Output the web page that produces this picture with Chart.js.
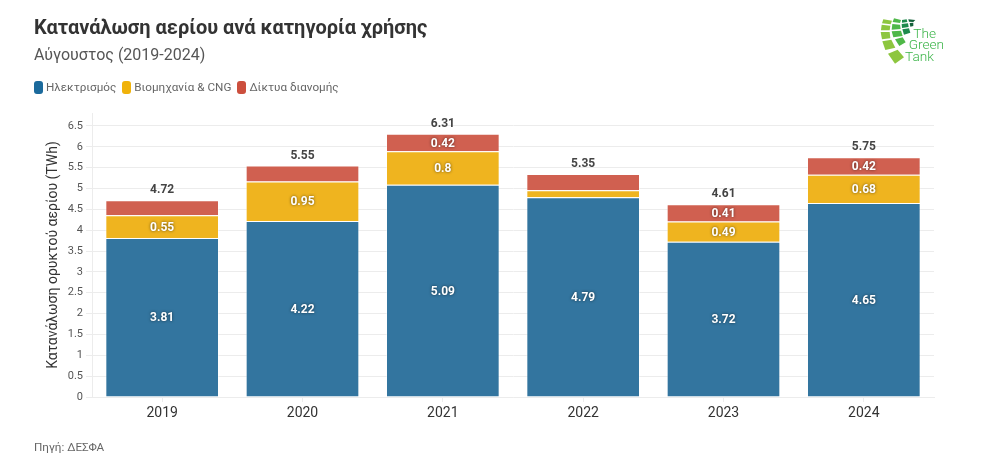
<!DOCTYPE html>
<html lang="el">
<head>
<meta charset="utf-8">
<title>Κατανάλωση αερίου</title>
<script src="https://cdn.jsdelivr.net/npm/chart.js@4"></script>
<style>
  html, body { margin: 0; padding: 0; background: #fff; }
  body { width: 989px; height: 476px; position: relative; overflow: hidden; font-family: Roboto, sans-serif; }
  canvas { position: absolute; left: 0; top: 0; }
  .txt { position: absolute; white-space: nowrap; }
  #title { left: 34px; top: 15px; font-size: 20px; font-weight: 700; color: #333; }
  #subtitle { left: 34px; top: 45px; font-size: 16px; color: #555; }
  #legend { position: absolute; left: 34px; top: 80px; display: flex; font-size: 11.7px; color: #666; }
  #legend span.item { display: flex; align-items: center; margin-right: 6px; }
  #legend i { width: 9px; height: 13px; border-radius: 3px; margin-right: 3px; display: block; }
  #source { left: 34px; top: 440px; font-size: 11.7px; color: #666; }
  #logo { position: absolute; left: 850px; top: 0; }
</style>
</head>
<body>
<canvas id="chart" width="989" height="476"></canvas>
<div class="txt" id="title">Κατανάλωση αερίου ανά κατηγορία χρήσης</div>
<div class="txt" id="subtitle">Αύγουστος (2019-2024)</div>
<div id="legend"></div>
<div class="txt" id="source">Πηγή: ΔΕΣΦΑ</div>
<svg id="logo" width="139" height="80" viewBox="0 0 417 240">
  <g fill="#8dc63f">
    <polygon points="100,58 126,62 122,73 96,70"/>
    <polygon points="95,74 121,77 119,91 93,91"/>
    <polygon points="92,96 119,96 121,115 96,118"/>
    <polygon points="97,124 124,119 136,143 106,150"/>
    <polygon points="114,161 143,149 162,172 135,191"/>
  </g>
  <g fill="#4fb848">
    <polygon points="132,55 153,60 150,69 128,66"/>
    <polygon points="127,72 150,74 152,87 125,89"/>
    <polygon points="125,94 153,92 158,108 130,112"/>
    <polygon points="135,118 158,112 167,127 148,138"/>
  </g>
  <g fill="#1e8a4c">
    <polygon points="156,60 170,58 172,66 156,68"/>
    <polygon points="155,72 174,70 176,81 156,84"/>
    <polygon points="157,88 177,85 181,98 162,104"/>
  </g>
  <g fill="#14613a">
    <polygon points="175,58 196,60 190,66 177,65"/>
    <polygon points="179,69 190,68 190,78 181,80"/>
  </g>
  <g fill="#3db54a" font-family="Roboto, sans-serif" font-weight="300" font-size="41">
    <text x="190" y="114">The</text>
    <text x="176" y="148">Green</text>
    <text x="165" y="182">Tank</text>
  </g>
</svg>
<script>
// values, TWh
const years = ["2019", "2020", "2021", "2022", "2023", "2024"];
const electricity = [3.81, 4.22, 5.09, 4.79, 3.72, 4.65];
const industry = [0.55, 0.95, 0.8, 0.17, 0.49, 0.68];
const networks = [0.36, 0.38, 0.42, 0.39, 0.41, 0.42];
const totals = [4.72, 5.55, 6.31, 5.35, 4.61, 5.75];

const seriesNames = ["Ηλεκτρισμός", "Βιομηχανία & CNG", "Δίκτυα διανομής"];
const legendColors = ["#1b6a9c", "#f0b20a", "#cc4f3d"];
const barColors = ["#33759f", "#efb41f", "#d06050"];
const labelMin = 0.41; // smaller segments carry no label in the original

// legend is plain html so the swatches can be taller than wide
document.getElementById("legend").innerHTML = seriesNames
  .map((n, i) => `<span class="item"><i style="background:${legendColors[i]}"></i>${n}</span>`)
  .join("");

const barLabels = {
  id: "barLabels",
  afterDatasetsDraw(chart) {
    const ctx = chart.ctx;
    ctx.save();
    ctx.textAlign = "center";
    ctx.textBaseline = "middle";
    ctx.font = "700 12px Roboto";
    chart.data.datasets.forEach((ds, d) => {
      chart.getDatasetMeta(d).data.forEach((bar, i) => {
        const v = ds.data[i];
        if (v < labelMin) return;
        ctx.shadowColor = "rgba(0,0,0,.6)";
        ctx.shadowBlur = 3;
        ctx.fillStyle = "#fff";
        ctx.fillText(String(v), bar.x, (bar.y + bar.base) / 2 + 1);
      });
    });
    ctx.shadowBlur = 0;
    ctx.shadowColor = "transparent";
    ctx.fillStyle = "#444";
    const top = chart.getDatasetMeta(2).data;
    totals.forEach((t, i) => {
      ctx.fillText(String(t), top[i].x, top[i].y - 10);
    });
    ctx.restore();
  },
};

new Chart(document.getElementById("chart"), {
  type: "bar",
  data: {
    labels: years,
    datasets: seriesNames.map((n, i) => ({
      label: n,
      data: [electricity, industry, networks][i],
      backgroundColor: barColors[i],
      borderColor: "rgba(255,255,255,.45)",
      borderWidth: 1,
      categoryPercentage: 0.81,
      barPercentage: 1,
    })),
  },
  options: {
    responsive: false,
    animation: false,
    layout: { padding: { top: 113, right: 55, bottom: 0, left: 45 } },
    scales: {
      x: {
        stacked: true,
        afterFit: (s) => { s.height = 79; },
        grid: { color: "#ececec", drawOnChartArea: false, tickLength: 5, offset: false },
        border: { color: "#ececec" },
        ticks: { color: "#333", font: { family: "Roboto", size: 14 }, padding: 3 },
      },
      y: {
        stacked: true,
        min: 0,
        max: 6.81,
        afterFit: (s) => { s.width = 47; },
        grid: { color: "#ececec", tickLength: 6 },
        border: { color: "#ececec" },
        title: {
          display: true,
          text: "Κατανάλωση ορυκτού αερίου (TWh)",
          color: "#333",
          font: { family: "Roboto", size: 14 },
          padding: { top: 0, bottom: 0 },
        },
        ticks: {
          stepSize: 0.5,
          includeBounds: false,
          color: "#555",
          padding: 3,
          font: { family: "Roboto", size: 11 },
          callback: (v) => String(v),
        },
      },
    },
    plugins: { legend: { display: false }, tooltip: { enabled: false } },
  },
  plugins: [barLabels],
});
</script>
</body>
</html>
